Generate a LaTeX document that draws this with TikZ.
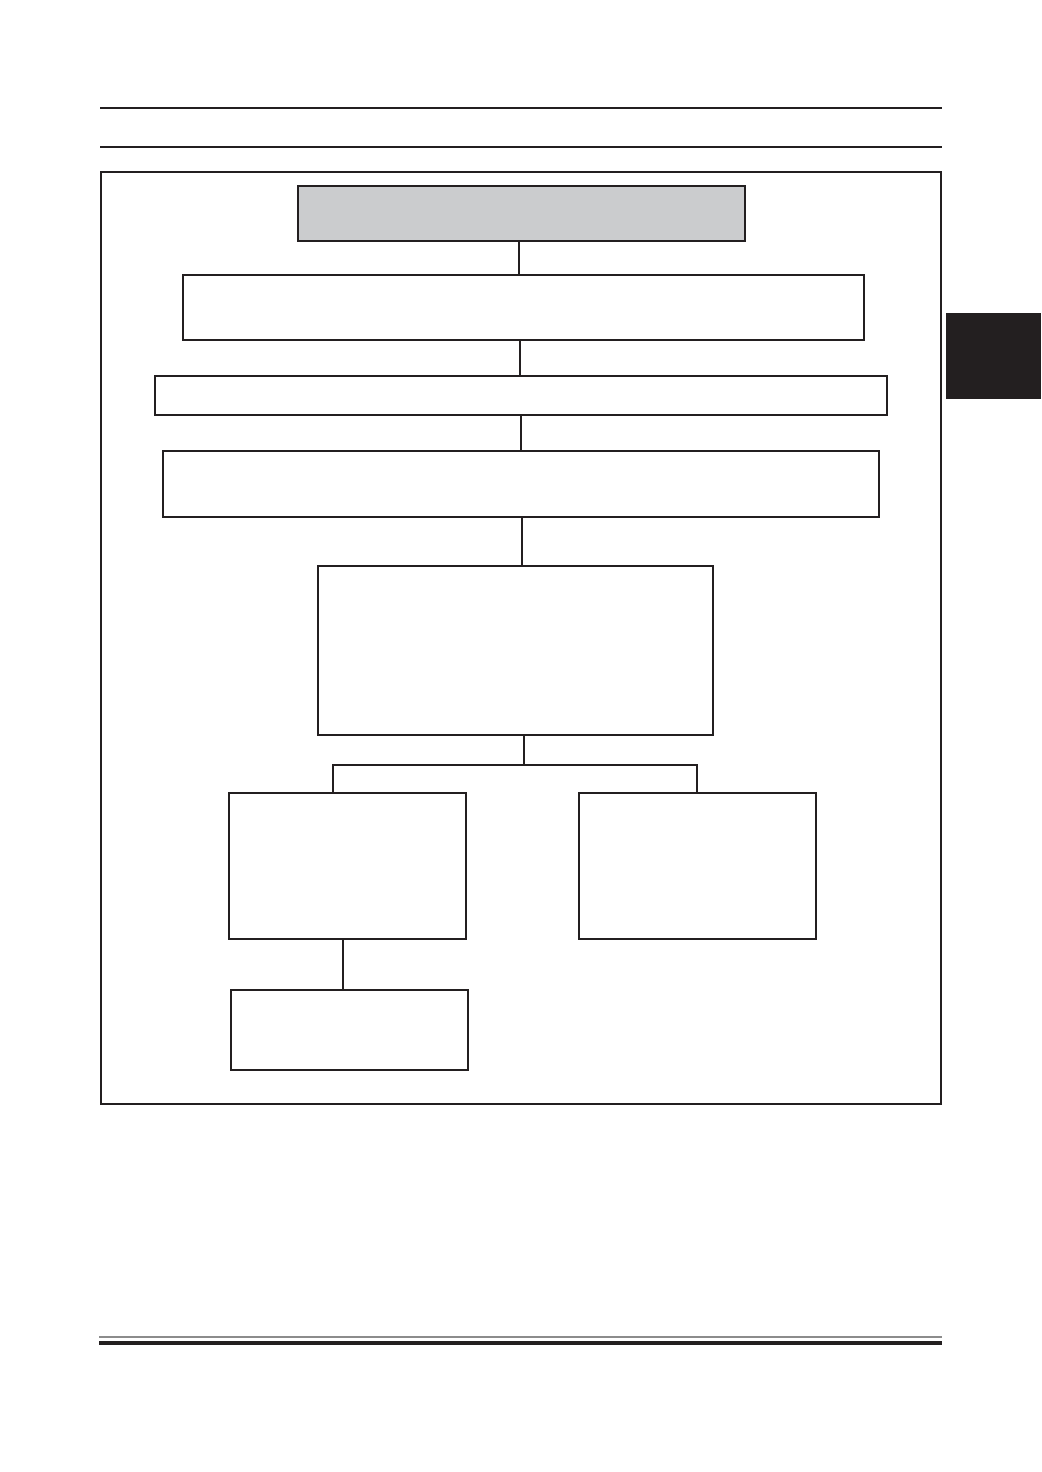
\documentclass[tikz,border=0pt]{standalone}
\usepackage{tikz}

\definecolor{boxgray}{RGB}{203,204,206}
\definecolor{inkblack}{RGB}{35,31,32}
\definecolor{rulegray}{RGB}{140,140,140}

\tikzset{
    box/.style={rectangle, draw=inkblack, line width=1.4pt, inner sep=0pt, outer sep=0pt},
    link/.style={draw=inkblack, line width=1.1pt}
}

\begin{document}
\begin{tikzpicture}[x=0.025cm, y=-0.025cm]
    \useasboundingbox[fill=white] (0,0) rectangle (1041,1472);
    % Header rules and frame
    \draw[inkblack, line width=1.4pt] (100,108) -- (942,108);
    \draw[inkblack, line width=1.4pt] (100,147) -- (942,147);
    \draw[inkblack, line width=1.4pt] (101,172) rectangle (941,1104);
    \fill[inkblack] (946,313) rectangle (1041,399);
    % Footer rules
    \draw[rulegray, line width=1.4pt] (99,1337) -- (942,1337);
    \draw[inkblack, line width=2.8pt] (99,1343) -- (942,1343);
    % Boxes
    \node[box, fill=boxgray, minimum width=11.175cm, minimum height=1.375cm] (head) at (521.5,213.5) {};
    \node[box, minimum width=17.025cm, minimum height=1.625cm] (s1) at (523.5,307.5) {};
    \node[box, minimum width=18.3cm, minimum height=0.975cm] (s2) at (521,395.5) {};
    \node[box, minimum width=17.9cm, minimum height=1.65cm] (s3) at (521,484) {};
    \node[box, minimum width=9.875cm, minimum height=4.225cm] (s4) at (515.5,650.5) {};
    \node[box, minimum width=5.925cm, minimum height=3.65cm] (left) at (347.5,866) {};
    \node[box, minimum width=5.925cm, minimum height=3.65cm] (right) at (697.5,866) {};
    \node[box, minimum width=5.925cm, minimum height=2cm] (leftsub) at (349.5,1030) {};
    % Joints
    \coordinate (sp) at (524,765);
    \coordinate (jl) at (333,765);
    \coordinate (jr) at (697,765);
    \coordinate (jd) at (343,965);
    % Connectors
    \draw[link] (head.south -| 519,0) -- (s1.north -| 519,0);
    \draw[link] (s1.south -| 520,0) -- (s2.north -| 520,0);
    \draw[link] (s2.south) -- (s3.north |- s3.north);
    \draw[link] (s3.south -| 522,0) -- (s4.north -| 522,0);
    \draw[link] (s4.south -| sp) -- (sp);
    \draw[link] (jl |- left.north) -- (jl) -- (jr) -- (jr |- right.north);
    \draw[link] (left.south -| jd) -- (leftsub.north -| jd);
\end{tikzpicture}
\end{document}
